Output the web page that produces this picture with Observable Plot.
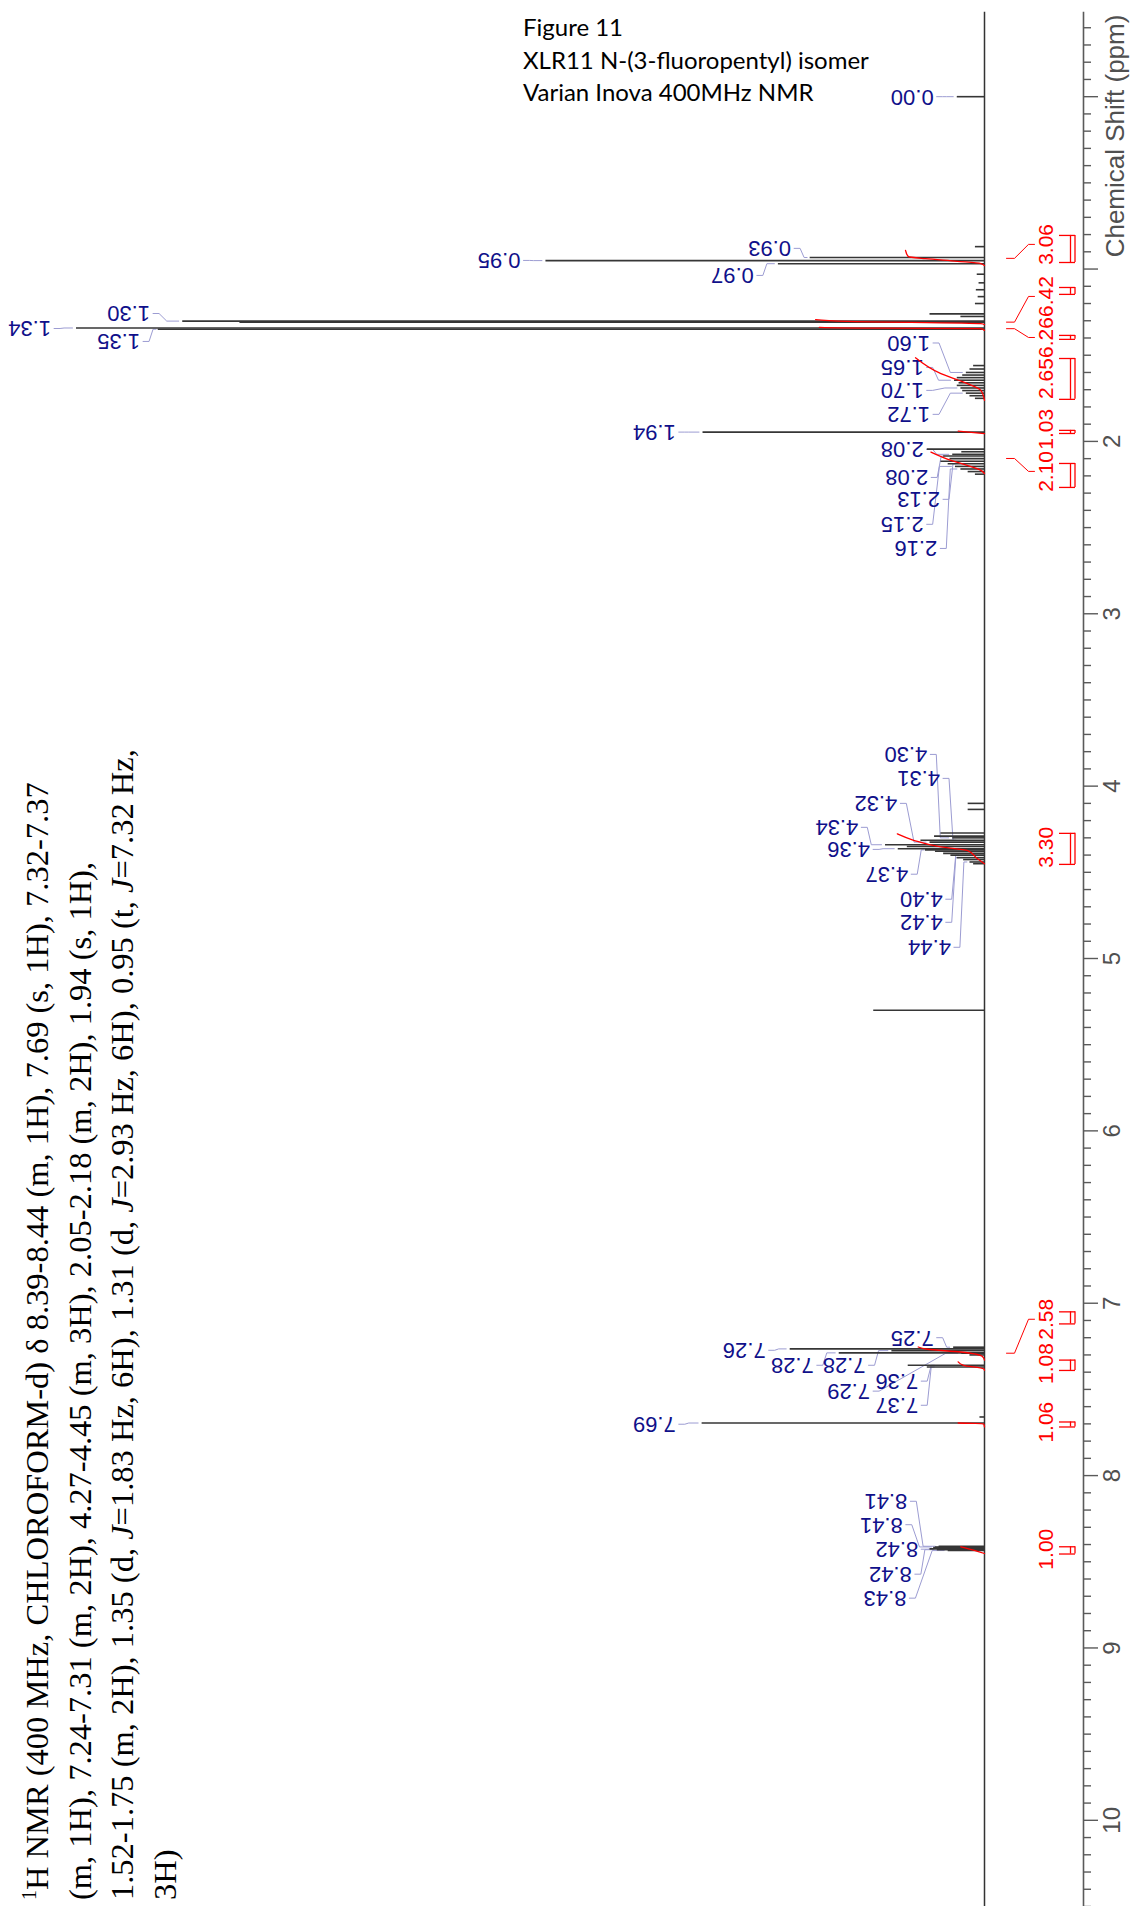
<!DOCTYPE html>
<html><head><meta charset="utf-8">
<script src="https://cdn.jsdelivr.net/npm/d3@7"></script>
<script src="https://cdn.jsdelivr.net/npm/@observablehq/plot@0.6"></script>
<style>
body{margin:0;background:#fff;}
#wrap{position:relative;width:1131px;height:1906px;overflow:hidden;}
#wrap svg{position:absolute;left:0;top:0;}
.title{position:absolute;left:523px;font-family:Lato,"Open Sans",sans-serif;font-size:24px;line-height:24px;color:#000;white-space:nowrap;}
.caption{position:absolute;left:16px;top:1900px;font-family:"Liberation Serif",serif;font-size:32.5px;line-height:42.5px;transform-origin:0 0;transform:rotate(-90deg);white-space:nowrap;color:#000;}
.caption sup{font-size:20px;line-height:0;}
</style></head><body>
<div id="wrap"></div>
<script>
// ---- data ----
// spectrum peaks: chemical shift (ppm) and relative height (tallest = 100)
const peakPpm = [0.00, 0.87, 0.933, 0.951, 0.969, 1.03, 1.08, 1.12, 1.16, 1.20, 1.26, 1.275, 1.302, 1.309, 1.342, 1.349,
  1.56, 1.58, 1.60, 1.615, 1.63, 1.645, 1.66, 1.675, 1.69, 1.705, 1.72, 1.735, 1.75,
  1.946, 2.045, 2.06, 2.075, 2.085, 2.10, 2.115, 2.13, 2.145, 2.16, 2.175, 2.19,
  4.10, 4.135, 4.272, 4.29, 4.30, 4.314, 4.325, 4.34, 4.35, 4.363, 4.37, 4.378, 4.39, 4.40, 4.415, 4.426, 4.44, 4.45,
  5.30, 7.255, 7.265, 7.275, 7.288, 7.29, 7.30, 7.36, 7.37, 7.66, 7.695,
  8.41, 8.414, 8.418, 8.425, 8.43, 8.435];
const peakHeight = [3.0, 1.0, 19.2, 48.3, 22.7, 0.8, 0.6, 0.9, 0.7, 1.0, 6.0, 2.6, 88.3, 82.0, 100, 91.0,
  1.2, 1.6, 2.0, 2.4, 3.0, 3.3, 2.8, 3.0, 2.6, 2.4, 2.0, 1.6, 1.0,
  31.0, 6.3, 2.5, 3.5, 4.5, 3.8, 4.8, 4.0, 3.2, 2.6, 1.8, 1.0,
  1.8, 1.8, 4.8, 5.5, 3.5, 7.0, 6.0, 10.9, 8.5, 9.5, 6.5, 5.4, 4.5, 3.7, 3.0, 2.3, 1.6, 1.2,
  12.2, 3.4, 21.4, 10.2, 16.0, 2.5, 1.6, 8.4, 6.3, 0.5, 31.1,
  5.0, 5.4, 5.6, 6.0, 5.2, 4.0];

// peak labels: text, labelled peak (ppm), label centre (ppm), label end (relative height units)
const labelText = ["0.00","0.93","0.95","0.97","1.30","1.34","1.35","1.60","1.65","1.70","1.72","1.94",
  "2.08","2.08","2.13","2.15","2.16","4.30","4.31","4.32","4.34","4.36","4.37","4.40","4.42","4.44",
  "7.25","7.26","7.28","7.28","7.36","7.29","7.37","7.69","8.41","8.41","8.42","8.42","8.43"];
const labelPeak = [0.00, 0.933, 0.951, 0.969, 1.302, 1.342, 1.349, 1.60, 1.645, 1.69, 1.72, 1.946,
  2.075, 2.085, 2.13, 2.145, 2.16, 4.30, 4.314, 4.325, 4.34, 4.363, 4.37, 4.40, 4.415, 4.44,
  7.255, 7.265, 7.288, 7.275, 7.36, 7.29, 7.37, 7.695, 8.41, 8.414, 8.425, 8.43, 8.435];
const labelAt = [0.00, 0.88, 0.95, 1.037, 1.258, 1.345, 1.42, 1.429, 1.571, 1.704, 1.843, 1.946,
  2.046, 2.209, 2.336, 2.481, 2.621, 3.816, 3.955, 4.10, 4.239, 4.367, 4.511, 4.656, 4.79, 4.935,
  7.20, 7.273, 7.36, 7.36, 7.452, 7.51, 7.592, 7.702, 8.149, 8.285, 8.427, 8.572, 8.711];
const labelEnd = [5.6, 21.3, 51.1, 25.4, 91.9, 102.8, 93.0, 6.0, 6.7, 6.7, 6.0, 34.0,
  6.7, 6.2, 4.9, 6.7, 5.2, 6.3, 4.9, 9.6, 13.9, 12.6, 8.4, 4.6, 4.6, 3.7,
  5.6, 24.1, 18.8, 13.1, 7.3, 12.6, 7.3, 34.0, 8.5, 9.0, 7.3, 8.0, 8.6];

// integrals: value, label centre, bracket range, leader target (ppm)
const intValue = ["3.06","6.42","6.26","2.65","1.03","2.10","3.30","2.58","1.08","1.06","1.00"];
const intLabelAt = [0.857, 1.159, 1.397, 1.635, 1.930, 2.174, 4.355, 7.093, 7.35, 7.69, 8.427];
const intFrom = [0.805, 1.107, 1.385, 1.519, 1.936, 2.128, 4.274, 7.05, 7.33, 7.689, 8.413];
const intTo   = [0.962, 1.147, 1.408, 1.756, 1.954, 2.267, 4.454, 7.12, 7.39, 7.718, 8.455];
const intTarget = [0.938, 1.308, 1.346, null, null, 2.099, null, 7.29, null, null, null];
// integral curves (ppm, height) per region
const curvePpm = [
  [0.892, 0.927, 0.94, 0.955, 0.968, 0.98],
  [1.294, 1.304, 1.317, 1.322],
  [1.338, 1.343, 1.346, 1.356],
  [1.515, 1.607, 1.656, 1.704, 1.762],
  [1.94, 1.955],
  [2.062, 2.11, 2.139, 2.168, 2.186],
  [4.277, 4.314, 4.353, 4.373, 4.42, 4.45],
  [7.254, 7.267, 7.283, 7.31, 7.33],
  [7.34, 7.36, 7.38, 7.39],
  [7.695, 7.70, 7.717],
  [8.413, 8.432, 8.452]];
const curveVal = [
  [8.7, 8.4, 6.5, 3.0, 0.4, 0],
  [18.6, 15.1, 0.4, 0],
  [18.2, 11.5, 0.4, 0],
  [7.6, 4.8, 2.3, 0.4, 0],
  [2.9, 0],
  [5.9, 3.7, 1.9, 0.4, 0],
  [9.6, 7.8, 4.8, 1.9, 0.8, 0],
  [7.3, 6.3, 2.6, 0.2, 0],
  [2.9, 2.3, 0.1, 0],
  [2.9, 0.1, 0],
  [2.6, 1.2, 0]];
const majorTicks = [0,1,2,3,4,5,6,7,8,9,10];
const tickLabels = ["2","3","4","5","6","7","8","9","10"];

// ---- layout helpers (pixel offsets -> x units) ----
const X0 = 984, X100 = 76, PXU = 100 / (X0 - X100);
const xv = px => (X0 - px) * PXU;          // absolute pixel -> x units
const dpx = d => d * PXU;                 // pixel distance -> x units

const peaks = peakPpm.map((p, i) => ({ppm: p, h: peakHeight[i]}));
const hAt = p => { let best = peaks[0]; for (const k of peaks) if (Math.abs(k.ppm - p) < Math.abs(best.ppm - p)) best = k; return best.h; };

const labels = labelText.map((t, i) => ({t, peak: labelPeak[i], at: labelAt[i], end: labelEnd[i]}));
const leaders = [];
labels.forEach((l, i) => {
  const tip = hAt(l.peak);
  const p1 = l.end - dpx(3), p2 = l.end - dpx(9);
  const p3 = Math.min(p2 - dpx(4), tip + dpx(16));
  const p4 = Math.min(p3 - dpx(3), tip + dpx(4));
  [[p1, l.at], [p2, l.at], [p3, l.peak], [p4, l.peak]].forEach(([x, y]) => leaders.push({id: i, x, y}));
});

const integrals = intValue.map((v, i) => ({v, at: intLabelAt[i], from: intFrom[i], to: intTo[i], target: intTarget[i]}));
const curves = [];
curvePpm.forEach((arr, i) => arr.forEach((p, j) => curves.push({id: i, ppm: p, v: curveVal[i][j]})));
const redLeaders = [];
integrals.forEach((g, i) => {
  if (g.target == null) return;
  [[xv(1034), g.at], [xv(1028), g.at], [xv(1014), g.target], [xv(1006), g.target]].forEach(([x, y]) => redLeaders.push({id: i, x, y}));
});
const bracketEnds = integrals.flatMap(g => [g.from, g.to]);
const minorTicks = d3.range(-4, 106).map(i => i / 10).filter(t => !majorTicks.includes(t));

const AX = 1083;
const gray = "#5a5a5a";
const chart = Plot.plot({
  width: 1131, height: 1906,
  marginTop: 10, marginBottom: 0, marginLeft: 0, marginRight: 48,
  x: {domain: [0, 100], range: [X0, X100], axis: null},
  y: {domain: [-0.5, 10.5], range: [10, 1906], axis: null},
  style: {fontFamily: "Liberation Sans, Arial, sans-serif", background: "white"},
  marks: [
    // leader lines of peak labels
    Plot.line(leaders, {x: "x", y: "y", z: "id", stroke: "#9c9cd2", strokeWidth: 1, curve: "linear"}),
    Plot.text(labels, {x: "end", y: "at", text: "t", rotate: 180, textAnchor: "start", fontSize: 22, fill: "#10108a"}),
    // baseline and peaks
    Plot.ruleX([0], {y1: -0.49, y2: 10.5, stroke: "#333", strokeWidth: 1.5}),
    Plot.ruleY(peaks, {y: "ppm", x1: 0, x2: "h", stroke: "#363636", strokeWidth: 1.6}),
    // integral curves
    Plot.line(curves, {x: "v", y: "ppm", z: "id", stroke: "#ff0000", strokeWidth: 1.3, curve: "monotone-y"}),
    // integral labels, leaders and brackets
    Plot.line(redLeaders, {x: "x", y: "y", z: "id", stroke: "#ff0000", strokeWidth: 1}),
    Plot.text(integrals, {x: xv(1046), y: "at", text: "v", rotate: -90, fontSize: 21, fill: "#ff0000"}),
    Plot.ruleY(bracketEnds, {y: d => d, x1: xv(1059), x2: xv(1075), stroke: "#ff0000", strokeWidth: 1.3}),
    Plot.ruleX(integrals, {x: xv(1070), y1: "from", y2: "to", stroke: "#ff0000", strokeWidth: 1.3}),
    Plot.ruleX(integrals, {x: xv(1074.5), y1: "from", y2: "to", stroke: "#ff0000", strokeWidth: 1.3}),
    // chemical shift axis
    Plot.ruleX([xv(AX)], {y1: -0.49, y2: 10.5, stroke: gray, strokeWidth: 1.6}),
    Plot.ruleY(minorTicks, {y: d => d, x1: xv(AX), x2: xv(AX + 8), stroke: gray, strokeWidth: 1.4}),
    Plot.ruleY(majorTicks, {y: d => d, x1: xv(AX), x2: xv(AX + 15), stroke: gray, strokeWidth: 1.4}),
    Plot.text(tickLabels, {x: xv(1112), y: d => +d, text: d => d, rotate: -90, fontSize: 24, fill: "#505050"}),
    Plot.text(["Chemical Shift (ppm)"], {x: xv(1115), y: 0.228, text: d => d, rotate: -90, fontSize: 26, fill: "#505050"})
  ]
});
const wrap = document.getElementById("wrap");
wrap.appendChild(chart);
const titles = ["Figure 11", "XLR11 N-(3-fluoropentyl) isomer", "Varian Inova 400MHz NMR"];
titles.forEach((t, i) => {
  const d = document.createElement("div");
  d.className = "title"; d.textContent = t; d.style.top = (15 + i * 32.5) + "px";
  wrap.appendChild(d);
});
const cap = document.createElement("div");
cap.className = "caption";
cap.innerHTML = "<sup>1</sup>H NMR (400 MHz, CHLOROFORM-d) δ 8.39-8.44 (m, 1H), 7.69 (s, 1H), 7.32-7.37<br>" +
  "(m, 1H), 7.24-7.31 (m, 2H), 4.27-4.45 (m, 3H), 2.05-2.18 (m, 2H), 1.94 (s, 1H),<br>" +
  "1.52-1.75 (m, 2H), 1.35 (d, <i>J</i>=1.83 Hz, 6H), 1.31 (d, <i>J</i>=2.93 Hz, 6H), 0.95 (t, <i>J</i>=7.32 Hz,<br>" +
  "3H)";
wrap.appendChild(cap);
</script>
</body></html>
